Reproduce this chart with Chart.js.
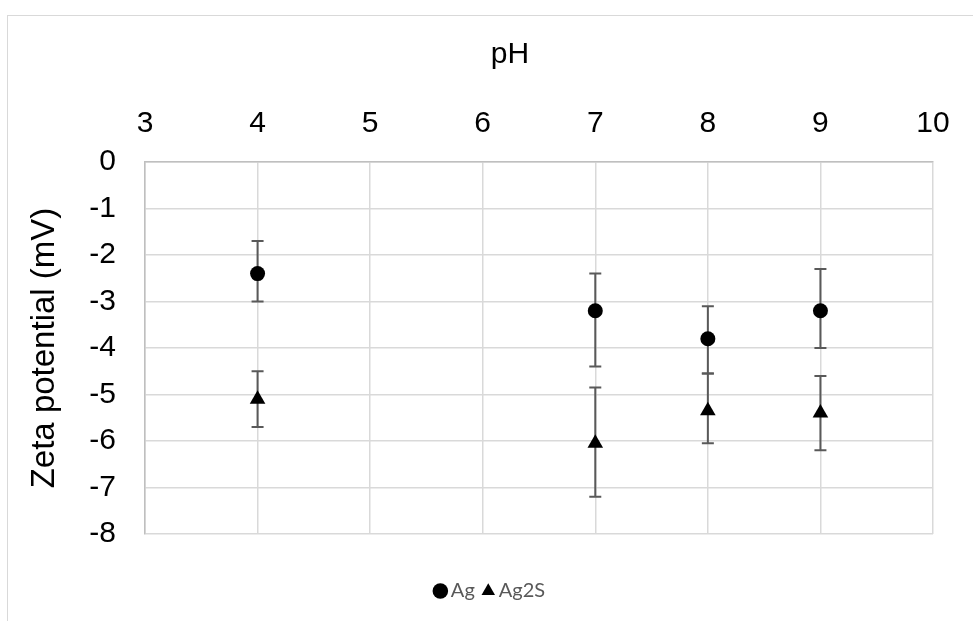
<!DOCTYPE html>
<html>
<head>
<meta charset="utf-8">
<script src="https://cdn.jsdelivr.net/npm/chart.js@4/dist/chart.umd.min.js"></script>
<style>
    html, body { margin: 0; padding: 0; background: #fff; overflow: hidden; }
    #frame {
        position: absolute; left: 7px; top: 15px;
        width: 1200px; height: 800px;
        border: 1.5px solid #d9d9d9;
    }
    #zetaChart { position: absolute; left: 0; top: 0; }
</style>
</head>
<body>
<div id="frame"></div>
<canvas id="zetaChart" width="973" height="621"></canvas>
<script>
// values
const pHValues = [4, 7, 8, 9];
const agZeta = [-2.4, -3.2, -3.8, -3.2];
const agHigh = [-1.7, -2.4, -3.1, -2.3];
const agLow = [-3.0, -4.4, -4.55, -4.0];
const ag2sZeta = [-5.1, -6.05, -5.35, -5.4];
const ag2sHigh = [-4.5, -4.85, -4.55, -4.6];
const ag2sLow = [-5.7, -7.2, -6.05, -6.2];
const xTicks = [3, 4, 5, 6, 7, 8, 9, 10];
const yTicks = [0, -1, -2, -3, -4, -5, -6, -7, -8];

function toPoints(ys) {
    return pHValues.map((x, i) => ({ x: x, y: ys[i] }));
}

// vertical error bars with caps, drawn under the markers
const errorBars = {
    id: 'errorBars',
    beforeDatasetsDraw(chart) {
        const ctx = chart.ctx;
        const xs = chart.scales.x;
        const ys = chart.scales.y;
        ctx.save();
        ctx.strokeStyle = '#595959';
        ctx.lineWidth = 2;
        chart.data.datasets.forEach(ds => {
            ds.data.forEach((p, i) => {
                const px = xs.getPixelForValue(p.x);
                const top = ys.getPixelForValue(ds.errHigh[i]);
                const bot = ys.getPixelForValue(ds.errLow[i]);
                ctx.beginPath();
                ctx.moveTo(px, top);
                ctx.lineTo(px, bot);
                ctx.moveTo(px - 6, top);
                ctx.lineTo(px + 6, top);
                ctx.moveTo(px - 6, bot);
                ctx.lineTo(px + 6, bot);
                ctx.stroke();
            });
        });
        ctx.restore();
    }
};

// axis title over the top axis (Excel puts it a bit left of centre)
const topTitle = {
    id: 'topTitle',
    afterDraw(chart) {
        const ctx = chart.ctx;
        ctx.save();
        ctx.font = '30px "Liberation Sans", Arial, sans-serif';
        ctx.fillStyle = '#000';
        ctx.textAlign = 'center';
        ctx.textBaseline = 'alphabetic';
        ctx.fillText('pH', 510, 63);
        ctx.restore();
    }
};

document.addEventListener('DOMContentLoaded', function() {
    const ctx = document.getElementById('zetaChart');

    const zetaChart = new Chart(ctx, {
        type: 'scatter',
        data: {
            datasets: [{
                label: 'Ag',
                data: toPoints(agZeta),
                errHigh: agHigh,
                errLow: agLow,
                pointStyle: 'circle',
                pointRadius: 7.5,
                backgroundColor: '#000',
                borderColor: '#000',
                borderWidth: 0
            }, {
                label: 'Ag2S',
                data: toPoints(ag2sZeta),
                errHigh: ag2sHigh,
                errLow: ag2sLow,
                pointStyle: 'triangle',
                pointRadius: 9,
                backgroundColor: '#000',
                borderColor: '#000',
                borderWidth: 0
            }]
        },
        options: {
            responsive: false,
            animation: false,
            devicePixelRatio: 1,
            layout: {
                padding: { top: 0, left: 52, right: 40, bottom: 10 }
            },
            scales: {
                x: {
                    type: 'linear',
                    position: 'top',
                    min: 3,
                    max: 10,
                    afterBuildTicks: s => { s.ticks = xTicks.map(v => ({ value: v })); },
                    afterFit: s => { s.height = 162; },
                    grid: { color: '#d9d9d9', lineWidth: 1.5, drawTicks: false },
                    border: { color: '#bfbfbf', width: 1.5 },
                    ticks: {
                        padding: 20,
                        color: '#000',
                        font: { family: '"Liberation Sans", Arial, sans-serif', size: 30 }
                    }
                },
                y: {
                    type: 'linear',
                    min: -8,
                    max: 0,
                    afterBuildTicks: s => { s.ticks = yTicks.map(v => ({ value: v })); },
                    afterFit: s => { s.width = 93; },
                    grid: { color: '#d9d9d9', lineWidth: 1.5, drawTicks: false },
                    border: { color: '#bfbfbf', width: 1.5 },
                    ticks: {
                        padding: 29,
                        color: '#000',
                        font: { family: '"Liberation Sans", Arial, sans-serif', size: 30 }
                    },
                    title: {
                        display: true,
                        text: 'Zeta potential (mV)',
                        color: '#000',
                        padding: { top: -27, bottom: 0 },
                        font: { family: '"Liberation Sans", Arial, sans-serif', size: 33 }
                    }
                }
            },
            plugins: {
                tooltip: { enabled: false },
                legend: {
                    position: 'bottom',
                    // empty title only pushes the legend row down
                    title: {
                        display: true,
                        text: '',
                        padding: { top: 22, bottom: 0 },
                        font: { size: 10 }
                    },
                    labels: {
                        usePointStyle: true,
                        boxWidth: 1,
                        boxHeight: 11,
                        padding: 13,
                        color: '#595959',
                        font: { family: 'Lato, "Open Sans", sans-serif', size: 20 }
                    }
                }
            }
        },
        plugins: [errorBars, topTitle]
    });

    window.zetaChart = zetaChart;
});
</script>
</body>
</html>
